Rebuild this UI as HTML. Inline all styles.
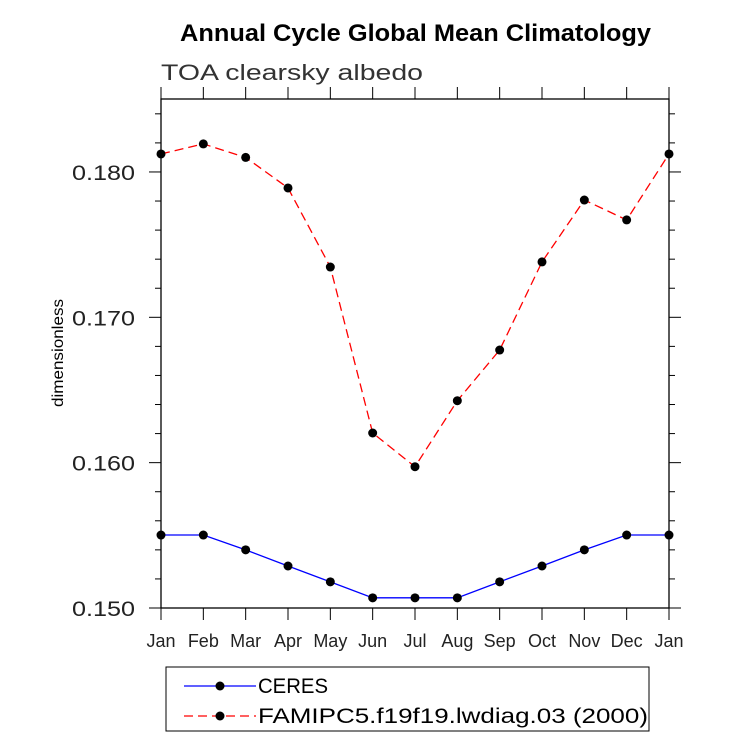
<!DOCTYPE html>
<html><head><meta charset="utf-8"><style>body{margin:0;background:#fff}svg{display:block}</style></head>
<body>
<svg width="733" height="756" xmlns="http://www.w3.org/2000/svg" font-family="Liberation Sans, sans-serif">
<text x="180" y="41" textLength="471" lengthAdjust="spacingAndGlyphs" font-size="24" font-weight="bold">Annual Cycle Global Mean Climatology</text>
<text x="161" y="80" textLength="262" lengthAdjust="spacingAndGlyphs" font-size="22" fill="#333">TOA clearsky albedo</text>
<text transform="translate(63,353) rotate(-90)" text-anchor="middle" font-size="16" textLength="108" lengthAdjust="spacingAndGlyphs">dimensionless</text>
<g id="axes"></g>
<g id="series"></g>
<g>
<rect x="166" y="667" width="483" height="64" fill="none" stroke="#000" stroke-width="1"/>
<g>
<line x1="184" y1="686" x2="256" y2="686" stroke="#00f" stroke-width="1.3"/><circle cx="220" cy="686" r="4.5"/>
<text x="258" y="693" font-size="21" textLength="70" lengthAdjust="spacingAndGlyphs">CERES</text></g>
<g>
<line x1="184" y1="716" x2="256" y2="716" stroke="#f00" stroke-width="1.3" stroke-dasharray="9,5"/><circle cx="220" cy="716" r="4.5"/>
<text x="258" y="723" font-size="21" textLength="390" lengthAdjust="spacingAndGlyphs">FAMIPC5.f19f19.lwdiag.03 (2000)</text></g>
</g>
</svg>
<script>
const months=["Jan","Feb","Mar","Apr","May","Jun","Jul","Aug","Sep","Oct","Nov","Dec","Jan"];
const ceres=[0.15502,0.15502,0.15400,0.15289,0.15180,0.15070,0.15070,0.15070,0.15180,0.15289,0.15400,0.15502,0.15502];
const model=[0.18124,0.18193,0.18100,0.17890,0.17346,0.16204,0.15972,0.16426,0.16775,0.17381,0.17807,0.17670,0.18124];
const yTicks=[0.150,0.160,0.170,0.180];
const yTickLabels=["0.150","0.160","0.170","0.180"];
const L=161,R=669,T=99,B=608,yMin=0.1500,yMax=0.18502;
const xs=i=>L+(R-L)*i/(months.length-1);
const ys=v=>B-(v-yMin)/(yMax-yMin)*(B-T);
const NS="http://www.w3.org/2000/svg";
function mk(tag,attrs,parent){const e=document.createElementNS(NS,tag);for(const k in attrs)e.setAttribute(k,attrs[k]);parent.appendChild(e);return e;}
const ax=document.getElementById('axes');
const frame=mk('rect',{x:L,y:T,width:R-L,height:B-T,fill:'none',stroke:'#000','stroke-width':1.3},ax);


months.forEach((m,i)=>{const x=xs(i);
mk('line',{x1:x,y1:B,x2:x,y2:B+12,stroke:'#000'},ax);
mk('line',{x1:x,y1:T,x2:x,y2:T-12,stroke:'#000'},ax);
const t=mk('text',{x:x,y:B+39,'text-anchor':'middle','font-size':18,fill:'#222'},ax);t.textContent=m;

});
for(let v=0.150;v<=yMax+1e-9;v+=0.002){const y=ys(v);const major=Math.abs(Math.round(v*1000)%10)<0.5;const len=major?12:6;
mk('line',{x1:L,y1:y,x2:L-len,y2:y,stroke:'#000'},ax);mk('line',{x1:R,y1:y,x2:R+len,y2:y,stroke:'#000'},ax);}
yTicks.forEach((v,i)=>{const t=mk('text',{x:72,y:ys(v)+8,'font-size':21,fill:'#222',textLength:63,lengthAdjust:'spacingAndGlyphs'},ax);t.textContent=yTickLabels[i];

});
const sg=document.getElementById('series');
function draw(data,color,dash,name){const g=mk('g',{},sg);


mk('polyline',{points:data.map((v,i)=>xs(i)+','+ys(v)).join(' '),fill:'none',stroke:color,'stroke-width':1.3,'stroke-dasharray':dash},g);
data.forEach((v,i)=>{const c=mk('circle',{cx:xs(i),cy:ys(v),r:4.5,fill:'#000'},g);

});}
draw(ceres,'#00f','none','series-ceres');
draw(model,'#f00','9,5','series-famipc5');
</script>
</body></html>
